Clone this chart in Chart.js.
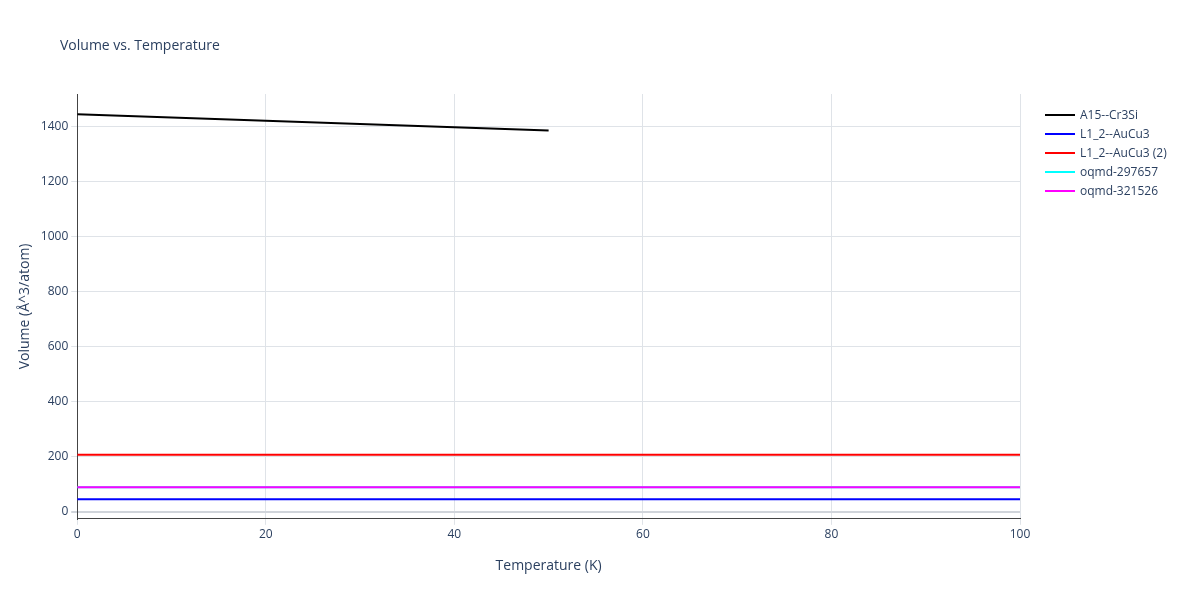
<!DOCTYPE html>
<html>
<head>
<script src="https://cdn.jsdelivr.net/npm/chart.js@4"></script>
<style>
body{margin:0;background:#fff;font-family:"Open Sans",Arial,sans-serif;color:#2a3f5f}
#wrap{position:relative;width:1200px;height:600px}
#title{position:absolute;left:60px;top:35px;font-size:14px}
#legend{position:absolute;left:1045px;top:105px;font-size:12px}
#legend div{height:19px;display:flex;align-items:center}
#legend span.sw{display:inline-block;width:30px;height:2px;margin-right:5px}
</style>
</head>
<body>
<div id="wrap"><canvas id="chart" width="1200" height="600"></canvas>
<div id="title">Volume vs. Temperature</div><div id="legend"></div></div>
<script>
const seriesNames = ['A15--Cr3Si', 'L1_2--AuCu3', 'L1_2--AuCu3 (2)', 'oqmd-297657', 'oqmd-321526'];
const seriesColors = ['#000000', '#0000ff', '#ff0000', '#00ffff', '#ff00ff'];
const cr3siT = [0, 10, 20, 30, 40, 50];
const cr3siV = [1444, 1433, 1421, 1409, 1397, 1385];
const flatT = [0, 100];
const auCu3V = [46, 46];
const auCu3bV = [208, 208];
const oqmd297657V = [90, 90];
const oqmd321526V = [90, 90];
const yTicks = [0, 200, 400, 600, 800, 1000, 1200, 1400];

const toPts = (xs, ys) => xs.map((x, i) => ({x, y: ys[i]}));
const seriesData = [
  toPts(cr3siT, cr3siV),
  toPts(flatT, auCu3V),
  toPts(flatT, auCu3bV),
  toPts(flatT, oqmd297657V),
  toPts(flatT, oqmd321526V),
];
const font = {family: '"Open Sans", Arial, sans-serif', size: 12};
const txt = '#2a3f5f';

document.getElementById('legend').innerHTML = seriesNames.map((n, i) =>
  `<div><span class="sw" style="background:${seriesColors[i]}"></span>${n}</div>`).join('');

new Chart(document.getElementById('chart').getContext('2d'), {
  type: 'line',
  data: {
    datasets: seriesNames.map((name, i) => ({
      label: name, data: seriesData[i], borderColor: seriesColors[i], backgroundColor: seriesColors[i],
      borderWidth: 2, pointRadius: 0, fill: false, order: i === 3 ? 10 : i,
    })),
  },
  options: {
    responsive: false, animation: false,
    layout: {padding: {left: 13, right: 180, top: 94, bottom: 22}},
    plugins: {legend: {display: false}, tooltip: {enabled: false}},
    scales: {
      x: {type: 'linear', min: 0, max: 100,
        ticks: {stepSize: 20, color: txt, font},
        grid: {color: '#dfe3e8', tickLength: 6},
        border: {color: '#444'},
        title: {display: true, text: 'Temperature (K)', color: txt, font: {...font, size: 14}, padding: {top: 12}}},
      y: {min: -25, max: 1518,
        afterBuildTicks: ax => { ax.ticks = yTicks.map(v => ({value: v})); },
        ticks: {color: txt, font, callback: v => String(v)},
        grid: {color: ctx => ctx.tick && ctx.tick.value === 0 ? '#d0d4da' : '#dfe3e8',
          lineWidth: ctx => ctx.tick && ctx.tick.value === 0 ? 2 : 1, tickLength: 6},
        border: {color: '#444'},
        title: {display: true, text: 'Volume (Å^3/atom)', color: txt, font: {...font, size: 14}}},
    },
  },
});
</script>
</body>
</html>
